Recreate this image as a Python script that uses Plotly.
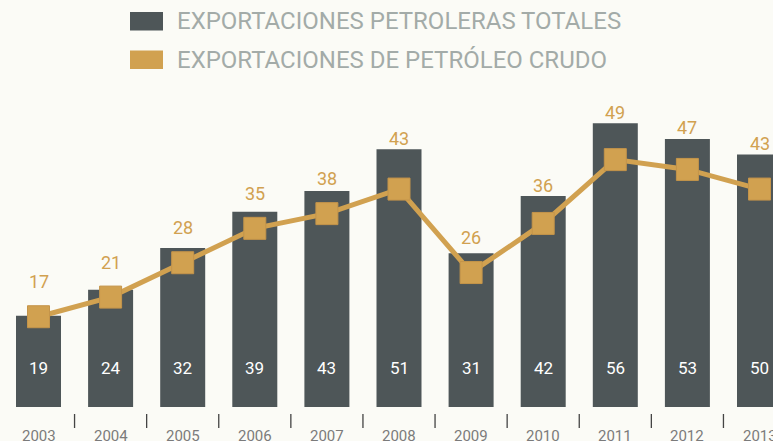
import plotly.graph_objects as go

years = ["2003", "2004", "2005", "2006", "2007", "2008", "2009", "2010", "2011", "2012", "2013"]
total_exports = [19, 24, 32, 39, 43, 51, 31, 42, 56, 53, 50]
crude_exports = [17, 21, 28, 35, 38, 43, 26, 36, 49, 47, 43]
name_total = "EXPORTACIONES PETROLERAS TOTALES"
name_crude = "EXPORTACIONES DE PETRÓLEO CRUDO"

BAR_C = "#4e5658"
ORANGE = "#d1a150"
BG = "#fbfbf6"
W, H = 773, 441
TOP, BOT = 0, 34
PH = H - TOP - BOT  # plot height in px

# axis mappings (pixel = base - scale * value)
BAR_BASE, BAR_SCALE = 414.5, 5.2
LINE_BASE, LINE_SCALE = 400.2, 4.91
X0, XSTEP = 38.5, 72.1

idx = list(range(len(years)))

fig = go.Figure()
fig.add_trace(go.Bar(
    x=idx, y=total_exports, name=name_total, marker=dict(color=BAR_C, line=dict(width=0)),
    width=0.624, yaxis="y", showlegend=False, hoverinfo="x+y"))
fig.add_trace(go.Scatter(
    x=idx, y=crude_exports, name=name_crude, mode="lines+markers", yaxis="y2",
    line=dict(color=ORANGE, width=5),
    marker=dict(symbol="square", size=22, color=ORANGE, line=dict(color="#c4944a", width=1)),
    showlegend=False))

ann = []
shapes = []
for i, (t, c) in enumerate(zip(total_exports, crude_exports)):
    ann.append(dict(x=i, y=(PH - 368) / PH, xref="x", yref="paper", text=str(t), showarrow=False,
                    font=dict(color="white", size=17, family="Roboto"), yanchor="middle"))
    m = LINE_BASE - LINE_SCALE * c
    b = BAR_BASE - BAR_SCALE * t
    lab = min(m - 35, b - 11)
    ann.append(dict(x=i, y=c, xref="x", yref="y2", text=str(c), showarrow=False, yshift=m - lab,
                    font=dict(color=ORANGE, size=18, family="Roboto"), yanchor="middle"))
for i, yr in enumerate(years):
    shapes.append(dict(type="line", xref="x", yref="paper", x0=i + 0.5, x1=i + 0.5,
                       y0=(PH - 414) / PH, y1=(PH - 428) / PH, line=dict(color="#444", width=1.3)))
    ann.append(dict(x=i, y=(PH - 436) / PH, xref="x", yref="paper", text=yr, showarrow=False,
                    yanchor="middle", font=dict(color="#7b7b7b", size=15, family="Roboto")))

# legend drawn manually
for k, (nm, col) in enumerate([(name_total, BAR_C), (name_crude, ORANGE)]):
    y_top = 12 + 38.5 * k
    shapes.append(dict(type="rect", xref="paper", yref="paper", x0=130 / W, x1=163 / W,
                       y0=(PH - y_top) / PH, y1=(PH - y_top - 18.5) / PH,
                       fillcolor=col, line=dict(width=0)))
    ann.append(dict(x=175 / W, y=(PH - (y_top + 9.5)) / PH, xref="paper", yref="paper", text=nm,
                    showarrow=False, xanchor="left", yanchor="middle",
                    font=dict(color="#a3aba8", size=24, family="Roboto")))

fig.update_layout(
    width=W, height=H, paper_bgcolor=BG, plot_bgcolor=BG,
    margin=dict(l=0, r=0, t=TOP, b=BOT, pad=0),
    xaxis=dict(range=[(0 - X0) / XSTEP, (W - X0) / XSTEP], tickmode="array", tickvals=idx,
               showticklabels=False, showgrid=False, zeroline=False, showline=False, ticks="",
               automargin=False),
    yaxis=dict(range=[(BAR_BASE - PH) / BAR_SCALE, BAR_BASE / BAR_SCALE], visible=False,
               showgrid=False, zeroline=False),
    yaxis2=dict(range=[(LINE_BASE - PH) / LINE_SCALE, LINE_BASE / LINE_SCALE], overlaying="y",
                visible=False, showgrid=False, zeroline=False),
    annotations=ann, shapes=shapes, bargap=0.376,
)
fig.write_html("out.html", config={"displayModeBar": False},
               post_script="document.body.style.margin='0';document.body.style.overflow='hidden';")
